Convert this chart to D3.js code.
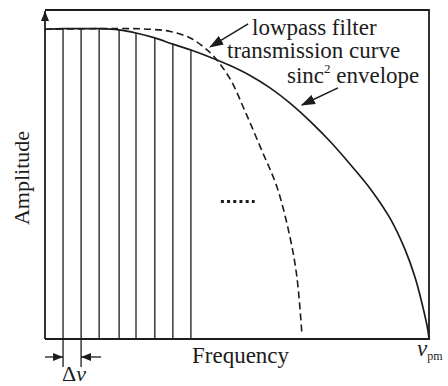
<!DOCTYPE html>
<html>
<head>
<meta charset="utf-8">
<script src="https://cdn.jsdelivr.net/npm/d3@7/dist/d3.min.js"></script>
<style>
  html, body { margin: 0; padding: 0; background: #fff; }
  svg { display: block; }
</style>
</head>
<body>
<svg id="chart" width="448" height="386"></svg>
<script>
// Frequency is normalised to v_pm = 1, amplitude to the DC value = 1.
const envelopeFreq = [0, 0.047, 0.094, 0.141, 0.193, 0.237, 0.286, 0.333, 0.380, 0.430, 0.482, 0.534, 0.586, 0.638, 0.690, 0.742, 0.794, 0.846, 0.898, 0.938, 0.964, 0.984, 0.997, 1.0];
const envelopeAmp  = [0.998, 1.0, 1.0, 1.0, 0.996, 0.986, 0.970, 0.950, 0.931, 0.908, 0.881, 0.849, 0.809, 0.760, 0.702, 0.637, 0.564, 0.486, 0.390, 0.287, 0.197, 0.103, 0.029, 0];

const filterFreq = [0, 0.143, 0.221, 0.273, 0.326, 0.378, 0.414, 0.440, 0.482, 0.523, 0.564, 0.604, 0.638, 0.656, 0.669];
const filterAmp  = [0.998, 1.0, 1.0, 0.998, 0.991, 0.970, 0.940, 0.910, 0.838, 0.728, 0.609, 0.490, 0.328, 0.200, 0.016];

// Comb lines spaced by Δv
const combFreq = [0.047, 0.094, 0.141, 0.193, 0.237, 0.286, 0.333, 0.380];
const combAmp  = [1.0, 1.0, 1.0, 0.996, 0.986, 0.970, 0.950, 0.931];

const labelLowpass = ["lowpass filter", "transmission curve"];
const labelEnvelope = "envelope";
const labelX = "Frequency";
const labelY = "Amplitude";

const ink = "#1c1c1c";
const serif = "'Liberation Serif', 'DejaVu Serif', 'Times New Roman', serif";
const svg = d3.select("#chart");

const x = d3.scaleLinear().domain([0, 1]).range([45, 429]);
const y = d3.scaleLinear().domain([0, 1.06]).range([339, 10]);

const env = envelopeFreq.map((f, i) => [f, envelopeAmp[i]]);
const flt = filterFreq.map((f, i) => [f, filterAmp[i]]);
const comb = combFreq.map((f, i) => [f, combAmp[i]]);

// arrowhead markers
const defs = svg.append("defs");
defs.append("marker")
  .attr("id", "head")
  .attr("viewBox", "0 0 14 10")
  .attr("refX", 13).attr("refY", 5)
  .attr("markerWidth", 14).attr("markerHeight", 10)
  .attr("markerUnits", "userSpaceOnUse")
  .attr("orient", "auto")
  .append("path").attr("d", "M0,0 L14,5 L0,10 Z").attr("fill", ink);

defs.append("marker")
  .attr("id", "smallhead")
  .attr("viewBox", "0 0 10 8")
  .attr("refX", 10).attr("refY", 4)
  .attr("markerWidth", 10).attr("markerHeight", 8)
  .attr("markerUnits", "userSpaceOnUse")
  .attr("orient", "auto")
  .append("path").attr("d", "M0,0 L10,4 L0,8 Z").attr("fill", ink);

// frame
const [x0, x1] = x.range();
const [yb, yt] = y.range();
svg.append("path")
  .attr("d", `M${x0},${yt} L${x1},${yt} L${x1},${yb} L${x0},${yb}`)
  .attr("fill", "none").attr("stroke", ink).attr("stroke-width", 1.8);

// vertical axis with arrow
svg.append("line")
  .attr("x1", x0).attr("x2", x0).attr("y1", yb).attr("y2", yt + 1)
  .attr("stroke", ink).attr("stroke-width", 1.8)
  .attr("marker-end", "url(#smallhead)");

// comb lines
svg.append("g").selectAll("line").data(comb).join("line")
  .attr("x1", d => x(d[0])).attr("x2", d => x(d[0]))
  .attr("y1", y(0)).attr("y2", d => y(d[1]))
  .attr("stroke", ink).attr("stroke-width", 1.3);

// sinc^2 envelope
const line = d3.line().x(d => x(d[0])).y(d => y(d[1])).curve(d3.curveCatmullRom.alpha(0.5));
svg.append("path").datum(env)
  .attr("d", line).attr("fill", "none")
  .attr("stroke", ink).attr("stroke-width", 1.7);

// low-pass filter transmission
svg.append("path").datum(flt)
  .attr("d", line).attr("fill", "none")
  .attr("stroke", ink).attr("stroke-width", 1.6)
  .attr("stroke-dasharray", "7 4");

// ellipsis between comb lines and cut-off
svg.append("line")
  .attr("x1", x(0.458)).attr("x2", x(0.546))
  .attr("y1", y(0.443)).attr("y2", y(0.443))
  .attr("stroke", ink).attr("stroke-width", 3)
  .attr("stroke-dasharray", "3 3.2");

// annotation arrows
svg.append("line")
  .attr("x1", x(0.529)).attr("y1", y(1.015))
  .attr("x2", x(0.430)).attr("y2", y(0.941))
  .attr("stroke", ink).attr("stroke-width", 1.5)
  .attr("marker-end", "url(#head)");
svg.append("line")
  .attr("x1", x(0.763)).attr("y1", y(0.809))
  .attr("x2", x(0.669)).attr("y2", y(0.754))
  .attr("stroke", ink).attr("stroke-width", 1.5)
  .attr("marker-end", "url(#head)");

function label(xp, yp, size) {
  return svg.append("text")
    .attr("x", xp).attr("y", yp)
    .attr("font-family", serif).attr("font-size", size)
    .attr("fill", ink);
}

// annotation text
label(252, 35, 23).text(labelLowpass[0]);
label(227, 58, 23).text(labelLowpass[1]);
const envText = label(287, 83, 23);
envText.append("tspan").text("sinc");
envText.append("tspan").attr("font-size", 13).attr("dy", -10).text("2");
envText.append("tspan").attr("dy", 10).text(" " + labelEnvelope);

// axis titles
label(192, 363, 23).text(labelX);
label(0, 0, 22)
  .attr("transform", "translate(29,178) rotate(-90)")
  .attr("text-anchor", "middle").text(labelY);

// v_pm label
const vpm = label(417, 356, 23);
vpm.append("tspan").attr("font-style", "italic").text("v");
vpm.append("tspan").attr("font-size", 12).attr("dy", 4).text("pm");

// Δv spacing marker
const c0 = x(combFreq[0]), c1 = x(combFreq[1]);
svg.append("g").selectAll("line").data([c0, c1]).join("line")
  .attr("x1", d => d).attr("x2", d => d)
  .attr("y1", y(0)).attr("y2", y(0) + 28)
  .attr("stroke", ink).attr("stroke-width", 1.3);
svg.append("line")
  .attr("x1", x0).attr("x2", c0).attr("y1", 357).attr("y2", 357)
  .attr("stroke", ink).attr("stroke-width", 1.3)
  .attr("marker-end", "url(#smallhead)");
svg.append("line")
  .attr("x1", c1 + 20).attr("x2", c1).attr("y1", 357).attr("y2", 357)
  .attr("stroke", ink).attr("stroke-width", 1.3)
  .attr("marker-end", "url(#smallhead)");
const dv = label(62, 381, 22);
dv.append("tspan").text("Δ");
dv.append("tspan").attr("font-style", "italic").text("v");
</script>
</body>
</html>
